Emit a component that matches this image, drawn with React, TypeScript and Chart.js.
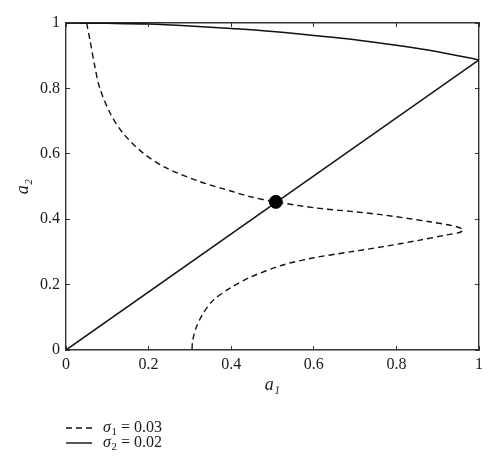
import React, { useEffect, useRef } from "react";
import { Chart, registerables } from "chart.js";

Chart.register(...registerables);

// Dashed curve (sigma1 = 0.03), traced as a parametric path
const dashedX = [0.05, 0.058, 0.07, 0.082, 0.107, 0.138, 0.187, 0.244, 0.324, 0.405, 0.445, 0.508, 0.607, 0.69, 0.768, 0.881, 0.946, 0.962, 0.954, 0.922, 0.857, 0.768, 0.688, 0.6, 0.525, 0.445, 0.397, 0.357, 0.332, 0.316, 0.307, 0.305];
const dashedY = [1.0, 0.948, 0.866, 0.8, 0.724, 0.663, 0.602, 0.556, 0.515, 0.484, 0.469, 0.453, 0.434, 0.424, 0.413, 0.392, 0.377, 0.367, 0.36, 0.352, 0.336, 0.316, 0.3, 0.282, 0.26, 0.222, 0.189, 0.153, 0.112, 0.071, 0.031, 0.0];

// Solid upper curve (sigma2 = 0.02)
const topX = [0, 0.1, 0.2, 0.3, 0.4, 0.5, 0.6, 0.7, 0.8, 0.9, 1.0];
const topY = [1.0, 0.999, 0.997, 0.991, 0.983, 0.974, 0.962, 0.949, 0.932, 0.912, 0.887];

// Solid diagonal line
const diagX = [0, 1];
const diagY = [0, 0.887];

// Intersection point
const dotX = [0.508];
const dotY = [0.453];

const tickLabels = ["0", "0.2", "0.4", "0.6", "0.8", "1"];

const legendSubs = ["1", "2"];
const legendValues = ["0.03", "0.02"];
const legendDashes = [[6, 4], []];

const SERIF = '"Liberation Serif", "Times New Roman", serif';
const TEXT = "#1a1a1a";
const LINE = "#111";

const toPts = (xs: number[], ys: number[]) => xs.map((x, i) => ({ x, y: ys[i] }));

const legendPlugin = {
  id: "sigmaLegend",
  afterDraw(chart: any) {
    const { ctx, chartArea } = chart;
    ctx.save();
    legendValues.forEach((val, i) => {
      const y = chartArea.bottom + 78 + i * 15;
      const x0 = chartArea.left;
      ctx.strokeStyle = LINE;
      ctx.lineWidth = 1.4;
      ctx.setLineDash(legendDashes[i]);
      ctx.beginPath();
      ctx.moveTo(x0, y);
      ctx.lineTo(x0 + 26, y);
      ctx.stroke();
      ctx.setLineDash([]);
      let x = x0 + 37;
      ctx.fillStyle = TEXT;
      ctx.textBaseline = "middle";
      ctx.textAlign = "left";
      ctx.font = `italic 16px ${SERIF}`;
      ctx.fillText("σ", x, y);
      x += ctx.measureText("σ").width + 0.5;
      ctx.font = `11px ${SERIF}`;
      ctx.fillText(legendSubs[i], x, y + 4);
      x += ctx.measureText(legendSubs[i]).width;
      ctx.font = `16px ${SERIF}`;
      ctx.fillText(" = " + val, x, y);
    });
    ctx.restore();
  },
};

const tickCb = (v: any) => {
  const idx = Math.round(Number(v) / 0.2);
  return tickLabels[idx] ?? "";
};

const gridOpts = {
  drawOnChartArea: false,
  drawTicks: true,
  tickLength: -4,
  color: "#333",
  lineWidth: 1,
};
const borderOpts = { display: true, color: "#333", width: 1.4 };

export default function App() {
  const ref = useRef<HTMLCanvasElement | null>(null);

  useEffect(() => {
    if (!ref.current) return;
    const chart = new Chart(ref.current, {
      type: "scatter",
      data: {
        datasets: [
          {
            label: "point",
            data: toPts(dotX, dotY),
            pointRadius: 6.5,
            pointBackgroundColor: "#000",
            pointBorderColor: "#000",
            showLine: false,
          },
          {
            label: "diag",
            data: toPts(diagX, diagY),
            showLine: true,
            borderColor: LINE,
            borderWidth: 1.5,
            pointRadius: 0,
          },
          {
            label: "top",
            data: toPts(topX, topY),
            showLine: true,
            borderColor: LINE,
            borderWidth: 1.5,
            pointRadius: 0,
            tension: 0.3,
          },
          {
            label: "dashed",
            data: toPts(dashedX, dashedY),
            showLine: true,
            borderColor: LINE,
            borderWidth: 1.4,
            borderDash: [6, 4],
            pointRadius: 0,
            tension: 0.3,
          },
        ],
      } as any,
      options: {
        animation: false,
        responsive: true,
        maintainAspectRatio: false,
        layout: { padding: { left: 8, right: 21, top: 23, bottom: 72 }, autoPadding: false },
        plugins: {
          legend: { display: false },
          tooltip: { enabled: false },
          title: { display: false },
        },
        scales: {
          x: {
            type: "linear",
            position: "bottom",
            min: 0,
            max: 1,
            ticks: {
              stepSize: 0.2,
              padding: 9,
              color: TEXT,
              font: { family: SERIF, size: 16 },
              callback: tickCb,
              maxRotation: 0,
            },
            grid: gridOpts,
            border: borderOpts,
            title: {
              display: true,
              text: "a₁",
              color: TEXT,
              font: { family: SERIF, size: 18, style: "italic" },
              padding: { top: 4, bottom: 4 },
            },
            afterFit: (s: any) => {
              s.height = 50;
            },
          },
          x2: {
            type: "linear",
            position: "top",
            min: 0,
            max: 1,
            ticks: { stepSize: 0.2, display: false },
            grid: gridOpts,
            border: borderOpts,
            afterFit: (s: any) => {
              s.height = 0;
            },
          },
          y: {
            type: "linear",
            position: "left",
            min: 0,
            max: 1,
            ticks: {
              stepSize: 0.2,
              padding: 10,
              color: TEXT,
              font: { family: SERIF, size: 16 },
              callback: tickCb,
            },
            grid: gridOpts,
            border: borderOpts,
            title: {
              display: true,
              text: "a₂",
              color: TEXT,
              font: { family: SERIF, size: 18, style: "italic" },
              padding: { top: 4, bottom: 4 },
            },
            afterFit: (s: any) => {
              s.width = 58;
            },
          },
          y2: {
            type: "linear",
            position: "right",
            min: 0,
            max: 1,
            ticks: { stepSize: 0.2, display: false },
            grid: gridOpts,
            border: borderOpts,
            afterFit: (s: any) => {
              s.width = 0;
            },
          },
        },
      } as any,
      plugins: [legendPlugin],
    });
    return () => chart.destroy();
  }, []);

  return (
    <div style={{ position: "absolute", left: 0, top: 0, width: 500, height: 472, background: "#fff" }}>
      <canvas ref={ref} />
    </div>
  );
}
